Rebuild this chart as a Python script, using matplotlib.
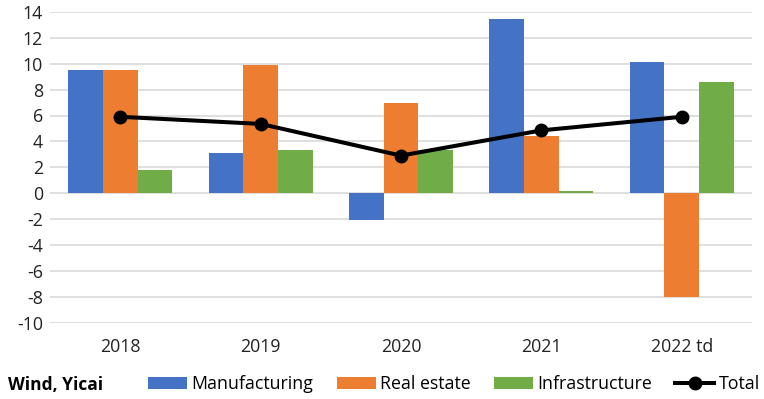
import numpy as np
import matplotlib.pyplot as plt

years = ["2018", "2019", "2020", "2021", "2022 td"]
manufacturing = [9.5, 3.1, -2.1, 13.45, 10.1]
real_estate = [9.5, 9.9, 6.95, 4.4, -8.0]
infrastructure = [1.8, 3.3, 3.35, 0.15, 8.6]
total = [5.9, 5.35, 2.9, 4.85, 5.9]

plt.rcParams['font.family'] = ['Open Sans', 'DejaVu Sans']
plt.rcParams['axes.unicode_minus'] = False

fig = plt.figure(figsize=(7.64, 3.99), dpi=100)
ax = fig.add_axes([50 / 764, 1 - 322.5 / 399, 702 / 764, (322.5 - 12) / 399])

x = np.arange(len(years))
w = 0.247
ax.bar(x - w, manufacturing, w, color='#4472C4', label='Manufacturing', zorder=2)
ax.bar(x, real_estate, w, color='#ED7D31', label='Real estate', zorder=2)
ax.bar(x + w, infrastructure, w, color='#70AD47', label='Infrastructure', zorder=2)
ax.plot(x, total, color='black', linewidth=2.9, marker='o', markersize=9, label='Total', zorder=3)

ax.set_xlim(-0.5, len(years) - 0.5)
ax.set_ylim(-10, 14)
ax.set_yticks(np.arange(-10, 15, 2))
ax.set_xticks(x)
ax.set_xticklabels(years)
ax.grid(axis='y', color='#d9d9d9', linewidth=1.2, zorder=0)
ax.set_axisbelow(True)
for s in ax.spines.values():
    s.set_visible(False)
ax.tick_params(length=0, labelsize=12.8, colors='#222222')
ax.tick_params(axis='x', pad=11)
ax.tick_params(axis='y', pad=5)

fig.text(8 / 764, 1 - 385 / 399, "Wind, Yicai", fontsize=12.5, fontweight='bold', va='center', ha='left')

handles, labels = ax.get_legend_handles_labels()
order = [1, 2, 3, 0]
fig.legend([handles[i] for i in order], [labels[i] for i in order],
           loc='center', bbox_to_anchor=(454 / 764, 1 - 384 / 399), ncol=4, frameon=False,
           fontsize=12.8, handlelength=2.2, handleheight=0.65, handletextpad=0.25, columnspacing=1.3)

fig.savefig("out.png", dpi=100)
